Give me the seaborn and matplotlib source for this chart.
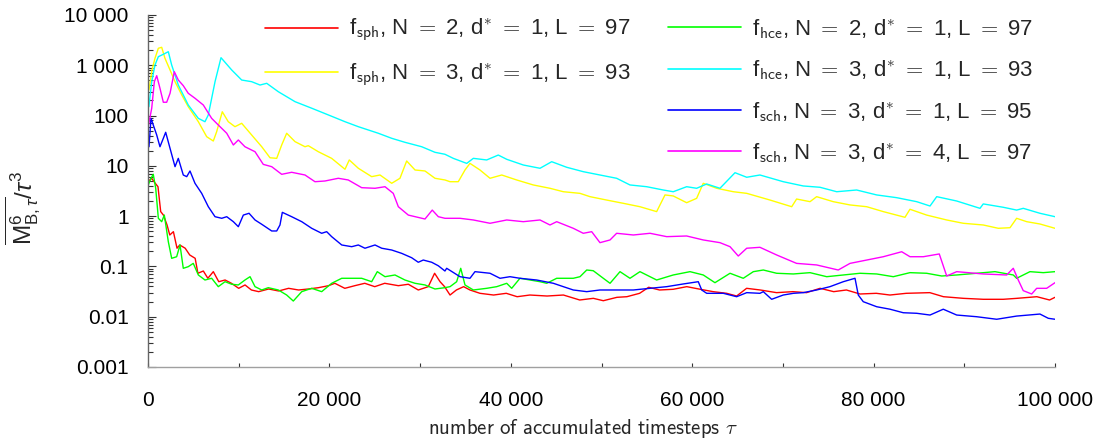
import numpy as np
import pandas as pd
import matplotlib
matplotlib.use("Agg")
import matplotlib.pyplot as plt
import seaborn as sns
from matplotlib.lines import Line2D
from matplotlib.ticker import LogLocator, NullFormatter, MultipleLocator

# ---------------- data ----------------
red_tau = [0, 400, 800, 1100, 1400, 1700, 2100, 2400, 2800, 3200,
           3500, 4100, 4600, 5200, 5500, 6100, 6600, 7200, 7800, 8500,
           9200, 10000, 10700, 11400, 12200, 13300, 14400, 15500, 16600, 17700,
           18800, 19900, 20600, 21700, 22800, 23900, 25000, 26100, 27600, 28700,
           29800, 30900, 31600, 32200, 32700, 33300, 34000, 34800, 35500, 36600,
           38100, 39500, 40700, 42100, 44000, 45800, 47600, 49100, 50200, 51700,
           52800, 54200, 55200, 56400, 57900, 59400, 60900, 62300, 63800, 64900,
           66000, 67500, 69300, 71100, 72600, 74100, 75600, 77000, 78500, 80300,
           81800, 83600, 86200, 87700, 89900, 92100, 94300, 95800, 98000, 99400,
           100000]
red_val = [4.84, 5.66, 4.50, 3.85, 1.23, 1.05, 0.667, 0.422, 0.491, 0.230,
           0.267, 0.230, 0.169, 0.145, 0.0731, 0.0811, 0.0581, 0.0787, 0.0497, 0.0537,
           0.0462, 0.0367, 0.0428, 0.0340, 0.0315, 0.0356, 0.0325, 0.0367, 0.0340, 0.0356,
           0.0378, 0.0414, 0.0462, 0.0367, 0.0414, 0.0462, 0.0396, 0.0462, 0.0414, 0.0442,
           0.0340, 0.0396, 0.0731, 0.0497, 0.0396, 0.0270, 0.0340, 0.0396, 0.0340, 0.0292,
           0.0270, 0.0292, 0.0250, 0.0270, 0.0258, 0.0270, 0.0215, 0.0232, 0.0208, 0.0243,
           0.0250, 0.0292, 0.0385, 0.0340, 0.0351, 0.0396, 0.0351, 0.0315, 0.0292, 0.0258,
           0.0367, 0.0340, 0.0301, 0.0315, 0.0301, 0.0367, 0.0315, 0.0340, 0.0283, 0.0292,
           0.0270, 0.0292, 0.0301, 0.0250, 0.0232, 0.0222, 0.0222, 0.0232, 0.0250, 0.0215,
           0.0243]

yellow_tau = [110, 440, 770, 1140, 1510, 1870, 2430, 2980, 3720, 4440,
              5550, 6470, 7200, 7570, 8190, 8850, 9590, 10330, 11430, 12540,
              13450, 14190, 14740, 15290, 16210, 17310, 17670, 18780, 20250, 21720,
              22190, 23190, 24660, 25580, 26870, 27780, 28520, 29440, 30540, 31640,
              32740, 33300, 34210, 34950, 35500, 36600, 37710, 39000, 40650, 42480,
              44320, 45790, 47630, 48730, 50570, 52400, 54240, 56080, 57000, 57910,
              59390, 60490, 61220, 62700, 64530, 66010, 68580, 70970, 71510, 72990,
              73720, 75550, 77400, 79240, 81070, 83460, 84010, 85850, 88060, 89890,
              92090, 93750, 95040, 95770, 96880, 98340, 100000]
yellow_val = [323, 806, 1377, 2178, 2280, 1377, 806, 472, 257, 150,
              75.5, 38.0, 31.2, 47.8, 119, 75.5, 60.1, 70.2, 41.1, 24.0,
              14.5, 14.1, 26.0, 44.5, 30.3, 24.0, 25.2, 19.1, 14.1, 8.55,
              13.1, 8.95, 6.10, 6.58, 4.50, 5.66, 12.5, 8.28, 7.91, 5.66,
              5.24, 4.84, 4.84, 8.28, 11.2, 8.28, 5.66, 6.58, 5.24, 4.17,
              3.58, 3.06, 2.84, 2.44, 2.09, 1.80, 1.54, 1.23, 2.64, 2.52,
              1.85, 2.26, 4.50, 3.58, 3.06, 2.84, 2.09, 1.54, 2.19, 1.94,
              2.44, 1.94, 1.67, 1.54, 1.23, 0.948, 1.37, 1.05, 0.839, 0.721,
              0.667, 0.573, 0.589, 0.906, 0.776, 0.698, 0.573]

green_tau = [30, 330, 580, 850, 1140, 1510, 1800, 2240, 2610, 3160,
             3530, 3890, 4440, 4990, 5550, 6280, 7020, 7750, 8490, 9230,
             9960, 10690, 11250, 11800, 12540, 13260, 14370, 15290, 16020, 16950,
             18050, 19150, 20250, 21360, 22460, 23560, 24660, 25280, 26130, 27230,
             28330, 29440, 30540, 31640, 32740, 33300, 34030, 34480, 34950, 35870,
             37340, 38450, 39550, 40100, 41010, 42120, 43220, 43960, 45060, 46890,
             47630, 48370, 49090, 50200, 50940, 52040, 53140, 54240, 56080, 57910,
             59760, 61220, 62510, 64170, 65630, 66740, 67840, 69310, 71150, 72990,
             74830, 76660, 78500, 80340, 82170, 84010, 85850, 87510, 89160, 91360,
             93380, 95400, 95770, 97240, 98710, 100000]
green_val = [4.17, 5.66, 6.79, 3.58, 0.906, 0.776, 1.05, 0.310, 0.145, 0.156,
             0.267, 0.0918, 0.0989, 0.115, 0.0676, 0.0537, 0.0581, 0.0396, 0.0497, 0.0442,
             0.0428, 0.0537, 0.0625, 0.0396, 0.0340, 0.0378, 0.0340, 0.0270, 0.0205, 0.0315,
             0.0367, 0.0315, 0.0462, 0.0581, 0.0581, 0.0581, 0.0497, 0.0787, 0.0625, 0.0676,
             0.0537, 0.0462, 0.0428, 0.0356, 0.0378, 0.0396, 0.0497, 0.0918, 0.0428, 0.0340,
             0.0367, 0.0396, 0.0462, 0.0367, 0.0581, 0.0537, 0.0497, 0.0462, 0.0581, 0.0581,
             0.0625, 0.0849, 0.0822, 0.0581, 0.0462, 0.0787, 0.0581, 0.0787, 0.0537, 0.0676,
             0.0787, 0.0676, 0.0475, 0.0731, 0.0581, 0.0787, 0.0849, 0.0731, 0.0708, 0.0752,
             0.0625, 0.0676, 0.0731, 0.0708, 0.0625, 0.0752, 0.0731, 0.0645, 0.0676, 0.0731,
             0.0787, 0.0676, 0.0581, 0.0787, 0.0752, 0.0787]

cyan_tau = [100, 410, 770, 1140, 1690, 2240, 2610, 3340, 4440, 5550,
            6280, 6650, 7390, 8050, 9230, 10330, 11430, 12350, 13090, 14370,
            16210, 18050, 19880, 21720, 23190, 25390, 26870, 28330, 30180, 31640,
            32740, 33660, 35140, 35870, 37340, 38620, 39550, 41380, 43220, 44510,
            46160, 47990, 49830, 51670, 53140, 54980, 56810, 57910, 59390, 60490,
            61600, 63060, 64720, 66010, 67470, 70040, 72250, 74090, 75930, 78130,
            80340, 82540, 84750, 86220, 86960, 89160, 91730, 92090, 94300, 95770,
            96500, 98340, 100000]
cyan_val = [150, 472, 1014, 1482, 1655, 1862, 1014, 405, 162, 88,
            75.5, 103, 472, 1416, 806, 509, 472, 405, 438, 298,
            189, 140, 103, 75.5, 60.1, 44.5, 35.3, 29.4, 24.0, 18.6,
            17.0, 14.1, 11.2, 14.1, 13.1, 16.4, 13.5, 10.4, 8.95, 12.1,
            9.37, 7.66, 6.58, 5.66, 4.17, 3.85, 3.31, 3.06, 3.85, 3.58,
            4.36, 3.58, 7.31, 5.93, 6.58, 4.84, 3.98, 3.75, 3.06, 3.31,
            2.64, 2.33, 1.94, 1.59, 2.44, 2.00, 1.43, 1.75, 1.50, 1.32,
            1.43, 1.14, 0.975]

blue_tau = [110, 330, 580, 960, 1320, 1690, 1950, 2430, 2980, 3340,
            3890, 4270, 4630, 5180, 5920, 6650, 7390, 8130, 8680, 9410,
            9960, 10510, 11140, 11800, 12540, 13640, 14190, 14550, 14810, 15840,
            16950, 18050, 19150, 19700, 20250, 21360, 22460, 23190, 23920, 25030,
            25770, 26870, 27970, 29070, 29800, 30350, 31280, 32010, 32740, 32930,
            34400, 35500, 36050, 37710, 38810, 39910, 41010, 42850, 44690, 45790,
            46890, 48370, 49830, 51670, 53510, 55350, 57190, 59020, 60670, 61050,
            61600, 63430, 64900, 66010, 67470, 67840, 68760, 70040, 71150, 72250,
            73720, 75190, 76660, 77950, 78310, 78860, 80340, 81810, 83270, 84750,
            86220, 87680, 89160, 91360, 93570, 95770, 98340, 99260, 100000]
blue_val = [24.0, 88, 65, 41.1, 24.0, 35.3, 46.5, 22.3, 9.63, 14.1,
            6.58, 6.10, 7.91, 4.50, 2.84, 1.54, 0.975, 0.906, 0.975, 0.776,
            0.617, 1.05, 1.14, 0.839, 0.689, 0.507, 0.507, 0.667, 1.19, 0.975,
            0.776, 0.573, 0.456, 0.491, 0.391, 0.267, 0.247, 0.267, 0.230, 0.267,
            0.230, 0.212, 0.182, 0.149, 0.121, 0.134, 0.121, 0.103, 0.0811, 0.0918,
            0.0625, 0.0581, 0.0787, 0.0731, 0.0581, 0.0625, 0.0581, 0.0537, 0.0462, 0.0396,
            0.0340, 0.0315, 0.0340, 0.0340, 0.0340, 0.0367, 0.0396, 0.0448, 0.0497, 0.0340,
            0.0292, 0.0292, 0.0250, 0.0301, 0.0292, 0.0315, 0.0222, 0.0270, 0.0292, 0.0301,
            0.0340, 0.0396, 0.0497, 0.0581, 0.0270, 0.0199, 0.0158, 0.0141, 0.0120, 0.0117,
            0.0108, 0.0141, 0.0108, 0.0100, 0.0089, 0.0103, 0.0113, 0.0093, 0.0089]

magenta_tau = [60, 410, 700, 960, 1320, 1690, 2060, 2430, 2900, 3340,
               3890, 4440, 5180, 6100, 7020, 7940, 8680, 9410, 9960, 10690,
               11800, 12710, 13640, 14740, 15840, 17310, 18410, 19510, 20980, 22080,
               23560, 25030, 26130, 27040, 27600, 28700, 30540, 31340, 32010, 32740,
               34400, 35870, 37710, 39550, 41380, 43220, 44320, 45060, 46890, 47990,
               48920, 49830, 50940, 51670, 53510, 55350, 57190, 59390, 61220, 63060,
               64170, 65080, 66010, 67470, 69310, 71510, 73720, 76100, 77400, 79240,
               81070, 83100, 84010, 85480, 87240, 88060, 89160, 92090, 94670, 95400,
               95950, 96500, 97430, 97980, 99080, 100000]
magenta_val = [65, 140, 472, 621, 349, 184, 184, 277, 746, 509,
               393, 277, 221, 162, 88, 60.1, 44.5, 26.0, 32.7, 24.0,
               19.1, 10.7, 9.63, 6.79, 7.45, 6.58, 4.84, 5.00, 5.66, 5.24,
               3.68, 3.58, 3.85, 2.84, 1.54, 1.05, 0.877, 1.32, 0.975, 0.906,
               0.906, 0.839, 0.721, 0.839, 0.776, 0.839, 0.667, 0.776, 0.573, 0.456,
               0.491, 0.297, 0.336, 0.456, 0.422, 0.456, 0.391, 0.403, 0.336, 0.297,
               0.247, 0.161, 0.230, 0.240, 0.169, 0.115, 0.107, 0.0849, 0.115, 0.134,
               0.156, 0.196, 0.156, 0.156, 0.177, 0.0645, 0.0787, 0.0708, 0.0676, 0.0918,
               0.0537, 0.0330, 0.0283, 0.0367, 0.0367, 0.0475]

series_keys = ["sph2", "sph3", "hce2", "hce3", "sch3_1", "sch3_4"]
series_labels = [
    r"f$_{\mathsf{sph}}$, N $=$ 2, d$^{*}$ $=$ 1, L $=$ 97",
    r"f$_{\mathsf{sph}}$, N $=$ 3, d$^{*}$ $=$ 1, L $=$ 93",
    r"f$_{\mathsf{hce}}$, N $=$ 2, d$^{*}$ $=$ 1, L $=$ 97",
    r"f$_{\mathsf{hce}}$, N $=$ 3, d$^{*}$ $=$ 1, L $=$ 93",
    r"f$_{\mathsf{sch}}$, N $=$ 3, d$^{*}$ $=$ 1, L $=$ 95",
    r"f$_{\mathsf{sch}}$, N $=$ 3, d$^{*}$ $=$ 4, L $=$ 97",
]
series_colors = ["#ff0000", "#ffff00", "#00ff00", "#00ffff", "#0000ff", "#ff00ff"]
series_tau = [red_tau, yellow_tau, green_tau, cyan_tau, blue_tau, magenta_tau]
series_val = [red_val, yellow_val, green_val, cyan_val, blue_val, magenta_val]

x_ticks = [0, 20000, 40000, 60000, 80000, 100000]
x_ticklabels = ["0", "20 000", "40 000", "60 000", "80 000", "100 000"]
y_ticks = [1e-3, 1e-2, 1e-1, 1, 10, 100, 1000, 10000]
y_ticklabels = ["0.001", "0.01", "0.1", "1", "10", "100", "1 000", "10 000"]

# ---------------- style ----------------
sns.set_theme(style="ticks")
plt.rcParams["font.family"] = ["Liberation Sans", "DejaVu Sans"]
plt.rcParams["mathtext.fontset"] = "custom"
plt.rcParams["mathtext.rm"] = "Liberation Sans"
plt.rcParams["mathtext.it"] = "Liberation Sans:italic"
plt.rcParams["mathtext.bf"] = "Liberation Sans:bold"
plt.rcParams["mathtext.sf"] = "Liberation Sans"

frames = []
for key, t, v in zip(series_keys, series_tau, series_val):
    frames.append(pd.DataFrame({"tau": t, "value": v, "series": key}))
df = pd.concat(frames, ignore_index=True)

W, H = 1094, 443
fig = plt.figure(figsize=(W / 100, H / 100), dpi=100)
ax = fig.add_axes([148 / W, 1 - 367 / H, 907 / W, 352 / H])

sns.lineplot(data=df, x="tau", y="value", hue="series", hue_order=series_keys,
             palette=dict(zip(series_keys, series_colors)), estimator=None,
             sort=False, linewidth=1.0, legend=False, ax=ax)

ax.set_yscale("log")
ax.set_xlim(0, 100000)
ax.set_ylim(1e-3, 1e4)

ax.set_xticks(x_ticks)
ax.set_xticklabels(x_ticklabels)
ax.xaxis.set_minor_locator(MultipleLocator(10000))
ax.set_yticks(y_ticks)
ax.set_yticklabels(y_ticklabels)
ax.yaxis.set_minor_locator(LogLocator(base=10, subs=np.arange(2, 10), numticks=20))
ax.yaxis.set_minor_formatter(NullFormatter())

ax.tick_params(axis="both", which="both", direction="in", colors="#333333",
               labelcolor="black", width=0.8)
ax.tick_params(axis="x", which="both", length=3, pad=17, labelsize=15)
ax.tick_params(axis="y", which="major", length=6, pad=14, labelsize=15)
ax.tick_params(axis="y", which="minor", length=3.5)

sns.despine(ax=ax)
ax.spines["left"].set_color("#666666")
ax.spines["bottom"].set_color("#a0a0a0")
ax.spines["left"].set_linewidth(1.0)
ax.spines["bottom"].set_linewidth(1.0)

ax.set_xlabel(r"$\mathsf{number\ of\ accumulated\ timesteps}\ \tau$",
              fontsize=15, math_fontfamily="cm")
ax.xaxis.label.set_va("center")
ax.xaxis.set_label_coords(0.48, -0.175)
ax.set_ylabel(r"$\overline{\mathrm{M}^{6}_{\mathrm{B},\tau}}/\tau^{3}$", fontsize=17.5)
ax.yaxis.label.set_va("center")
ax.yaxis.set_label_coords(-0.138, 0.452)

handles = [Line2D([0], [0], color=c, lw=1.2) for c in series_colors]
leg_kw = dict(loc="upper left", bbox_transform=fig.transFigure, frameon=False,
              borderaxespad=0, borderpad=0, handlelength=3.3, handletextpad=0.5,
              labelspacing=0.78, fontsize=16)
leg1 = ax.legend(handles[:2], series_labels[:2], bbox_to_anchor=(265 / W, 1 - 17 / H), **leg_kw)
ax.add_artist(leg1)
leg2 = ax.legend(handles[2:], series_labels[2:], bbox_to_anchor=(668 / W, 1 - 17 / H), **leg_kw)
for lg in (leg1, leg2):
    for txt in lg.get_texts():
        txt.set_math_fontfamily("cm")

fig.savefig("out.png", dpi=100)
